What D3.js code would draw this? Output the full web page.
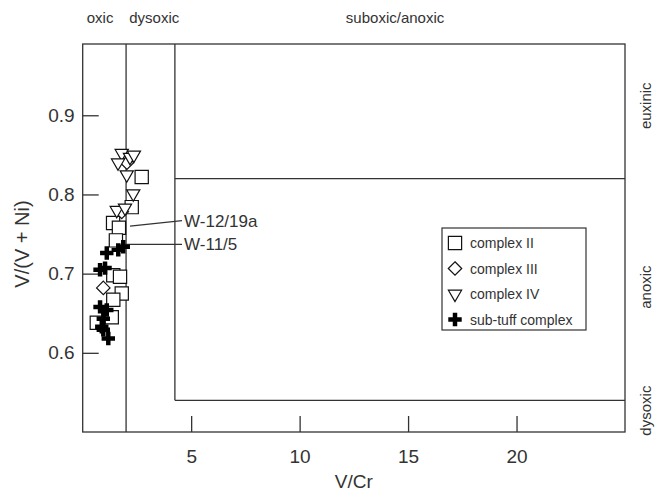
<!DOCTYPE html>
<html>
<head>
<meta charset="utf-8">
<script src="https://cdn.jsdelivr.net/npm/d3@7"></script>
<style>
  html, body { margin:0; padding:0; background:#fff; }
  svg { display:block; font-family: Arial, "Liberation Sans", Helvetica, sans-serif; }
  .frame, .zone { fill:none; stroke:#333; stroke-width:1.3; }
  .tick line { stroke:#333; stroke-width:1.3; }
  .tick text { font-size:19px; fill:#333; }
  .mark { fill:#fff; stroke:#111; stroke-width:1.2; }
  .cross { fill:#000; stroke:none; }
</style>
</head>
<body>
<div id="chart"></div>
<script>
/* V/Cr vs V/(V+Ni) redox cross-plot. */

// [V/Cr, V/(V+Ni)]
const COMPLEX_II  = [[2.72,0.822],[2.26,0.784],[1.40,0.764],[1.67,0.758],[1.53,0.742],
                     [1.41,0.698],[1.72,0.696],[1.80,0.675],[1.41,0.667],[1.34,0.645],[0.65,0.638]];
const COMPLEX_III = [[1.80,0.778],[0.95,0.682],[2.04,0.840]];
const COMPLEX_IV  = [[1.80,0.852],[2.18,0.847],[2.36,0.850],[1.63,0.840],[2.03,0.825],
                     [2.33,0.801],[1.57,0.780],[1.95,0.783]];
const SUB_TUFF    = [[1.11,0.726],[1.64,0.730],[1.87,0.734],[0.80,0.705],[1.03,0.707],
                     [0.80,0.658],[1.11,0.654],[0.95,0.643],[0.88,0.633],[0.95,0.629],[1.18,0.618]];

const X_TICKS = [5, 10, 15, 20];
const Y_TICKS = [0.6, 0.7, 0.8, 0.9];
const VCR_BOUNDS = [2, 4.25];      // oxic | dysoxic | suboxic/anoxic
const VVNI_BOUNDS = [0.54, 0.82];  // dysoxic | anoxic | euxinic

const TOP_LABELS = [["oxic", 0.8], ["dysoxic", 3.3], ["suboxic/anoxic", 14.4]];
const RIGHT_LABELS = [["euxinic", 0.912], ["anoxic", 0.683], ["dysoxic", 0.527]];
const SAMPLE_LABELS = [
  {text:"W-12/19a", from:[2.18,0.760], to:[4.58,0.767]},
  {text:"W-11/5",   from:[1.90,0.737], to:[4.58,0.737]}
];
const LEGEND = ["complex II", "complex III", "complex IV", "sub-tuff complex"];

const W = 661, H = 493;
const L = 82.7, R = 625, T = 44, B = 432;

const x = d3.scaleLinear().domain([0, 25]).range([L, R]);
const y = d3.scaleLinear().domain([0.5, 0.99]).range([B, T]);

const svg = d3.select("#chart").append("svg").attr("width", W).attr("height", H);

// axes with inward ticks
svg.append("g").attr("transform", `translate(0,${B})`)
  .call(d3.axisBottom(x).tickValues(X_TICKS).tickSize(-16).tickPadding(18).tickFormat(d3.format("d")))
  .call(g => g.select(".domain").remove())
  .selectAll("text").attr("dy", "0.71em");
svg.append("g").attr("transform", `translate(${L},0)`)
  .call(d3.axisLeft(y).tickValues(Y_TICKS).tickSize(-16).tickPadding(8).tickFormat(d3.format(".1f")))
  .call(g => g.select(".domain").remove());

svg.append("rect").attr("class","frame").attr("x", L).attr("y", T).attr("width", R-L).attr("height", B-T);

// redox zone boundaries
const z = svg.append("g");
z.append("line").attr("class","zone")
  .attr("x1", x(VCR_BOUNDS[0])).attr("x2", x(VCR_BOUNDS[0])).attr("y1", T).attr("y2", B);
z.append("line").attr("class","zone")
  .attr("x1", x(VCR_BOUNDS[1])).attr("x2", x(VCR_BOUNDS[1])).attr("y1", T).attr("y2", y(VVNI_BOUNDS[0]));
VVNI_BOUNDS.forEach(v => z.append("line").attr("class","zone")
  .attr("x1", x(VCR_BOUNDS[1])).attr("x2", R).attr("y1", y(v)).attr("y2", y(v)));

// zone labels
svg.selectAll("text.top").data(TOP_LABELS).enter().append("text").attr("class","top")
  .attr("x", d => x(d[1])).attr("y", 23).attr("text-anchor","middle")
  .attr("font-size", 15).attr("fill","#333").text(d => d[0]);
svg.selectAll("text.right").data(RIGHT_LABELS).enter().append("text").attr("class","right")
  .attr("transform", d => `translate(651,${y(d[1])}) rotate(-90)`).attr("text-anchor","middle")
  .attr("font-size", 15).attr("fill","#333").text(d => d[0]);

// axis titles
svg.append("text").attr("x", (L+R)/2).attr("y", 488).attr("text-anchor","middle")
  .attr("font-size", 19).attr("fill","#333").text("V/Cr");
svg.append("text").attr("transform", `translate(29,${(T+B)/2 + 6}) rotate(-90)`).attr("text-anchor","middle")
  .attr("font-size", 20).attr("fill","#333").text("V/(V + Ni)");

// sample call-outs
const sl = svg.selectAll("g.sl").data(SAMPLE_LABELS).enter().append("g").attr("class","sl");
sl.append("line").attr("stroke","#333").attr("stroke-width",1.2)
  .attr("x1", d => x(d.from[0])).attr("y1", d => y(d.from[1]))
  .attr("x2", d => x(d.to[0])).attr("y2", d => y(d.to[1]));
sl.append("text").attr("x", d => x(d.to[0]) + 2).attr("y", d => y(d.to[1]) + 6)
  .attr("font-size", 17).attr("fill","#333").text(d => d.text);

// symbols
const sq = d3.symbol().type(d3.symbolSquare).size(175);
const dm = d3.symbol().type(d3.symbolDiamond2).size(115);
const tri = d3.symbol().type(d3.symbolTriangle2).size(125);
const cr = d3.symbol().type(d3.symbolCross).size(100);

function plot(data, sym, cls, rot){
  svg.append("g").selectAll("path").data(data).enter().append("path")
    .attr("class", cls).attr("d", sym)
    .attr("transform", d => `translate(${x(d[0])},${y(d[1])})${rot ? " rotate(" + rot + ")" : ""}`);
}
plot(COMPLEX_II, sq, "mark");
plot(SUB_TUFF, cr, "cross");
plot(COMPLEX_III, dm, "mark");
plot(COMPLEX_IV, tri, "mark", 180);

// legend
const lg = svg.append("g").attr("transform","translate(442,228)");
lg.append("rect").attr("width", 144).attr("height", 102).attr("fill","#fff").attr("stroke","#333").attr("stroke-width",1.2);
const syms = [[sq,"mark",0],[dm,"mark",0],[tri,"mark",180],[cr,"cross",0]];
LEGEND.forEach((name, i) => {
  const cy = 15 + i * 25.5;
  lg.append("path").attr("class", syms[i][1]).attr("d", syms[i][0])
    .attr("transform", `translate(13,${cy}) rotate(${syms[i][2]})`);
  lg.append("text").attr("x", 28).attr("y", cy + 5).attr("font-size", 14).attr("fill","#333").text(name);
});
</script>
</body>
</html>
